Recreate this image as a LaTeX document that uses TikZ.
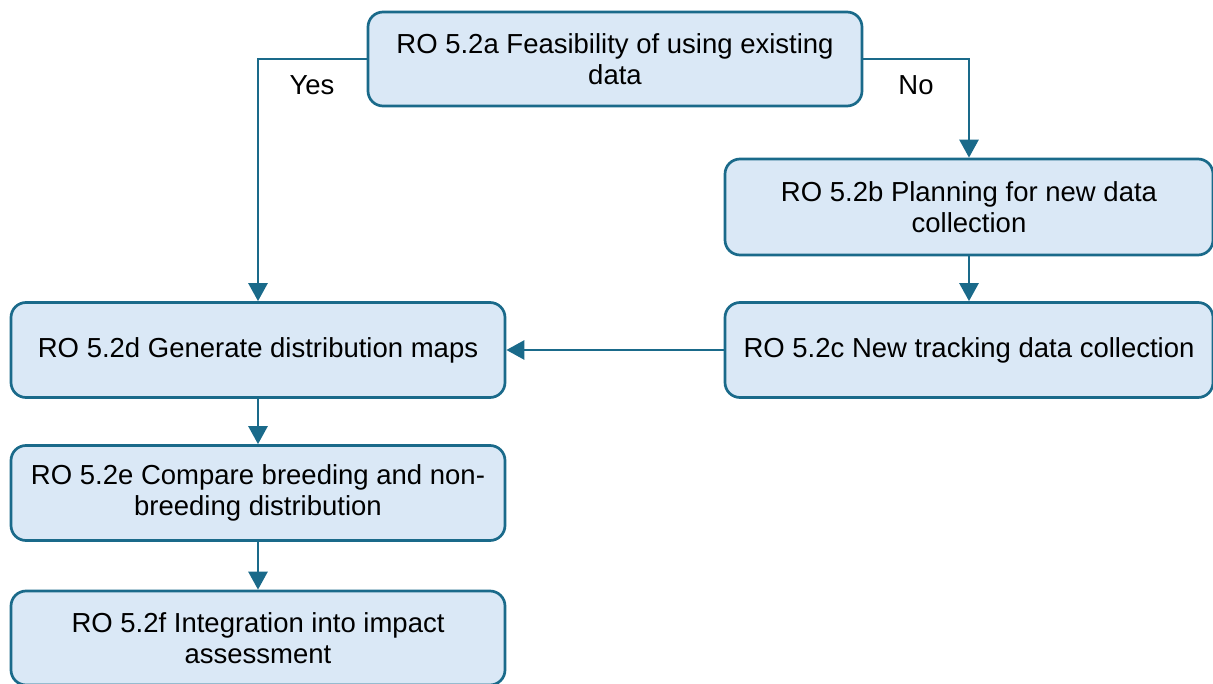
\documentclass[tikz,border=0pt]{standalone}
\usepackage{fontspec}
\setmainfont{Liberation Sans}
\usetikzlibrary{arrows.meta}
\definecolor{boxfill}{HTML}{DAE8F6}
\definecolor{boxline}{HTML}{1A6A8A}
\begin{document}
\begin{tikzpicture}[x=1pt,y=-1pt,
  stepbox/.style={draw=boxline, fill=boxfill, line width=2.7pt, rounded corners=15pt,
    minimum width=494pt, minimum height=94pt, inner sep=0pt, align=center,
    font=\fontsize{27.5}{31}\selectfont},
  conn/.style={draw=boxline, line width=2.7pt, -{Triangle[width=19pt,length=18pt]}},
  lbl/.style={font=\fontsize{27.5}{31}\selectfont, inner sep=0pt}]
\useasboundingbox (0,0) rectangle (1213,684);
\node[stepbox] (a) at (615,59) {RO 5.2a Feasibility of using existing\\data};
\node[stepbox, minimum width=488pt, minimum height=96pt] (b) at (969,207) {RO 5.2b Planning for new data\\collection};
\node[stepbox, minimum width=488pt, minimum height=95pt] (c) at (969,350) {RO 5.2c New tracking data collection};
\node[stepbox, minimum height=95pt] (d) at (258,350) {RO 5.2d Generate distribution maps};
\node[stepbox, minimum height=95pt] (e) at (258,493) {RO 5.2e Compare breeding and non-\\breeding distribution};
\node[stepbox] (f) at (258,638) {RO 5.2f Integration into impact\\assessment};
\draw[conn] (a.west) -| (d.north);
\draw[conn] (a.east) -| (b.north);
\draw[conn] (b) -- (c);
\draw[conn] (c) -- (d);
\draw[conn] (d) -- (e);
\draw[conn] (e) -- (f);
\node[lbl] (yes) at (312,85) {Yes};
\node[lbl] (no) at (916,85) {No};
\end{tikzpicture}
\end{document}
